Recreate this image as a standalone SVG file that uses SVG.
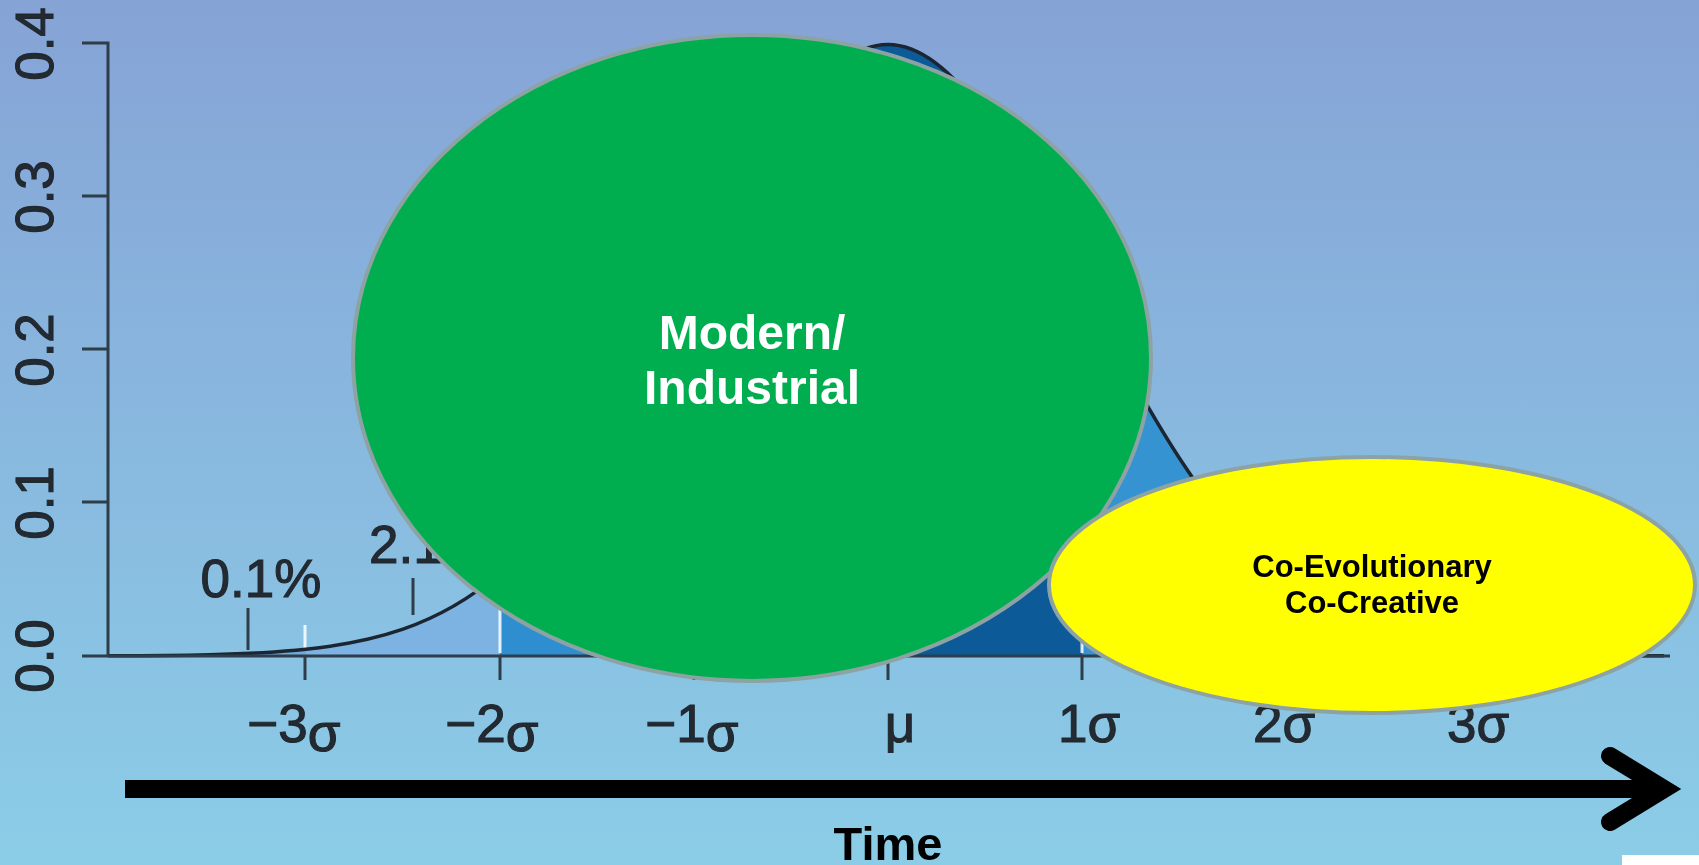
<svg xmlns="http://www.w3.org/2000/svg" width="1699" height="865" viewBox="0 0 1699 865">
<defs>
<linearGradient id="bg" x1="0" y1="0" x2="0" y2="1">
<stop offset="0" stop-color="#86A3D6"/>
<stop offset="1" stop-color="#8BCDE7"/>
</linearGradient>
<clipPath id="under">
<path d="M108,656 L108,655.8 L112,655.8 C144.33,655.66 176.67,655.44 209,654.66 C241.33,653.88 273.67,652.60 306,649.21 C338.33,645.81 370.67,640.33 403,629.14 C435.33,617.95 467.67,600.84 500,573.26 C532.33,545.68 564.67,507.13 597,457.52 C629.33,407.90 661.67,346.98 694,285.18 C726.33,223.38 758.67,161.42 791,116.46 C823.33,71.50 855.67,44.62 888,44.62 C920.33,44.62 952.67,71.50 985,116.46 C1017.33,161.42 1049.67,223.38 1082,285.18 C1114.33,346.98 1146.67,407.90 1179,457.52 C1211.33,507.13 1243.67,545.68 1276,573.26 C1308.33,600.84 1340.67,617.95 1373,629.14 C1405.33,640.33 1437.67,645.81 1470,649.21 C1502.33,652.60 1534.67,653.88 1567,654.66 C1599.33,655.44 1631.67,655.66 1664,655.80 L1670,656 Z"/>
</clipPath>
<filter id="soft" x="-5%" y="-5%" width="110%" height="110%">
<feGaussianBlur stdDeviation="0.6"/>
</filter>
</defs>
<style>
.axis{stroke:#2f3d49;stroke-width:3;fill:none}
.lbl{font-family:"Liberation Sans",Arial,sans-serif;font-size:53px;fill:#222930;stroke:#222930;stroke-width:1.1}
.node{stroke:#8DA3A3;stroke-width:4}
.bold{font-family:"Liberation Sans",Arial,sans-serif;font-weight:bold;text-anchor:middle}
.sep{stroke:#ffffff;stroke-width:3;opacity:0.85}
</style>
<rect x="0" y="0" width="1699" height="865" fill="url(#bg)"/>
<g id="chart" filter="url(#soft)">
<g clip-path="url(#under)">
<rect x="100" y="0" width="206" height="660" fill="#72A9DA"/>
<rect x="306" y="0" width="194" height="660" fill="#7DB3E2"/>
<rect x="500" y="0" width="194" height="660" fill="#2F8ED0"/>
<rect x="694" y="0" width="388" height="660" fill="#085A98"/>
<rect x="1082" y="0" width="194" height="660" fill="#3493D2"/>
<rect x="1276" y="0" width="194" height="660" fill="#7DB3E2"/>
<rect x="1470" y="0" width="220" height="660" fill="#72A9DA"/>
<line class="sep" x1="500" y1="560" x2="500" y2="653"/>
<line class="sep" x1="694" y1="280" x2="694" y2="653"/>
<line class="sep" x1="1082" y1="280" x2="1082" y2="653"/>
<line class="sep" x1="1276" y1="560" x2="1276" y2="653"/>
</g>
<line class="sep" x1="305" y1="625" x2="305" y2="650"/>
<path d="M108,655.8 L112,655.8 C144.33,655.66 176.67,655.44 209,654.66 C241.33,653.88 273.67,652.60 306,649.21 C338.33,645.81 370.67,640.33 403,629.14 C435.33,617.95 467.67,600.84 500,573.26 C532.33,545.68 564.67,507.13 597,457.52 C629.33,407.90 661.67,346.98 694,285.18 C726.33,223.38 758.67,161.42 791,116.46 C823.33,71.50 855.67,44.62 888,44.62 C920.33,44.62 952.67,71.50 985,116.46 C1017.33,161.42 1049.67,223.38 1082,285.18 C1114.33,346.98 1146.67,407.90 1179,457.52 C1211.33,507.13 1243.67,545.68 1276,573.26 C1308.33,600.84 1340.67,617.95 1373,629.14 C1405.33,640.33 1437.67,645.81 1470,649.21 C1502.33,652.60 1534.67,653.88 1567,654.66 C1599.33,655.44 1631.67,655.66 1664,655.80" stroke="#1a2530" stroke-width="3.5" fill="none"/>
<path class="axis" d="M82,43 H108 V656 M82,196 H108 M82,349 H108 M82,502 H108 M82,656 H1670"/>
<path class="axis" d="M305,656 V680 M500,656 V680 M694,656 V680 M888,656 V680 M1082,656 V680 M1276,656 V680 M1470,656 V680"/>
<path class="axis" d="M248,608 V650 M413,578 V615"/>
<g class="lbl" text-anchor="middle">
<text transform="translate(53,44) rotate(-90)">0.4</text>
<text transform="translate(53,197) rotate(-90)">0.3</text>
<text transform="translate(53,350) rotate(-90)">0.2</text>
<text transform="translate(53,503) rotate(-90)">0.1</text>
<text transform="translate(53,656) rotate(-90)">0.0</text>
<text x="261" y="597">0.1%</text>
<text x="294" y="742">−3<tspan dy="9">σ</tspan></text>
<text x="492" y="742">−2<tspan dy="9">σ</tspan></text>
<text x="692" y="742">−1<tspan dy="9">σ</tspan></text>
<text x="900" y="742">μ</text>
<text x="1089" y="742">1σ</text>
<text x="1284" y="742">2σ</text>
<text x="1478" y="742">3σ</text>
</g>
<text class="lbl" x="369" y="563">2.1%</text>
</g>
<g id="modern">
<ellipse class="node" cx="752" cy="358" rx="399" ry="323" fill="#00AE50"/>
<text class="bold" x="752" y="349" font-size="48" fill="#ffffff">Modern/</text>
<text class="bold" x="752" y="404" font-size="48" fill="#ffffff">Industrial</text>
</g>
<g id="coevolutionary">
<ellipse class="node" cx="1372" cy="585" rx="323" ry="128" fill="#FFFF00"/>
<text class="bold" x="1372" y="577" font-size="31" fill="#000000">Co-Evolutionary</text>
<text class="bold" x="1372" y="613" font-size="31" fill="#000000">Co-Creative</text>
</g>
<g id="connectors">
<line x1="125" y1="789" x2="1662" y2="789" stroke="#000000" stroke-width="18"/>
<polyline points="1610,756 1664,789 1610,822" fill="none" stroke="#000000" stroke-width="18" stroke-linecap="round" stroke-linejoin="miter"/>
</g>
<g id="time-label">
<text class="bold" x="888" y="860" font-size="47" fill="#000000">Time</text>
</g>
<rect x="1622" y="855" width="77" height="10" fill="#ffffff"/>
</svg>
